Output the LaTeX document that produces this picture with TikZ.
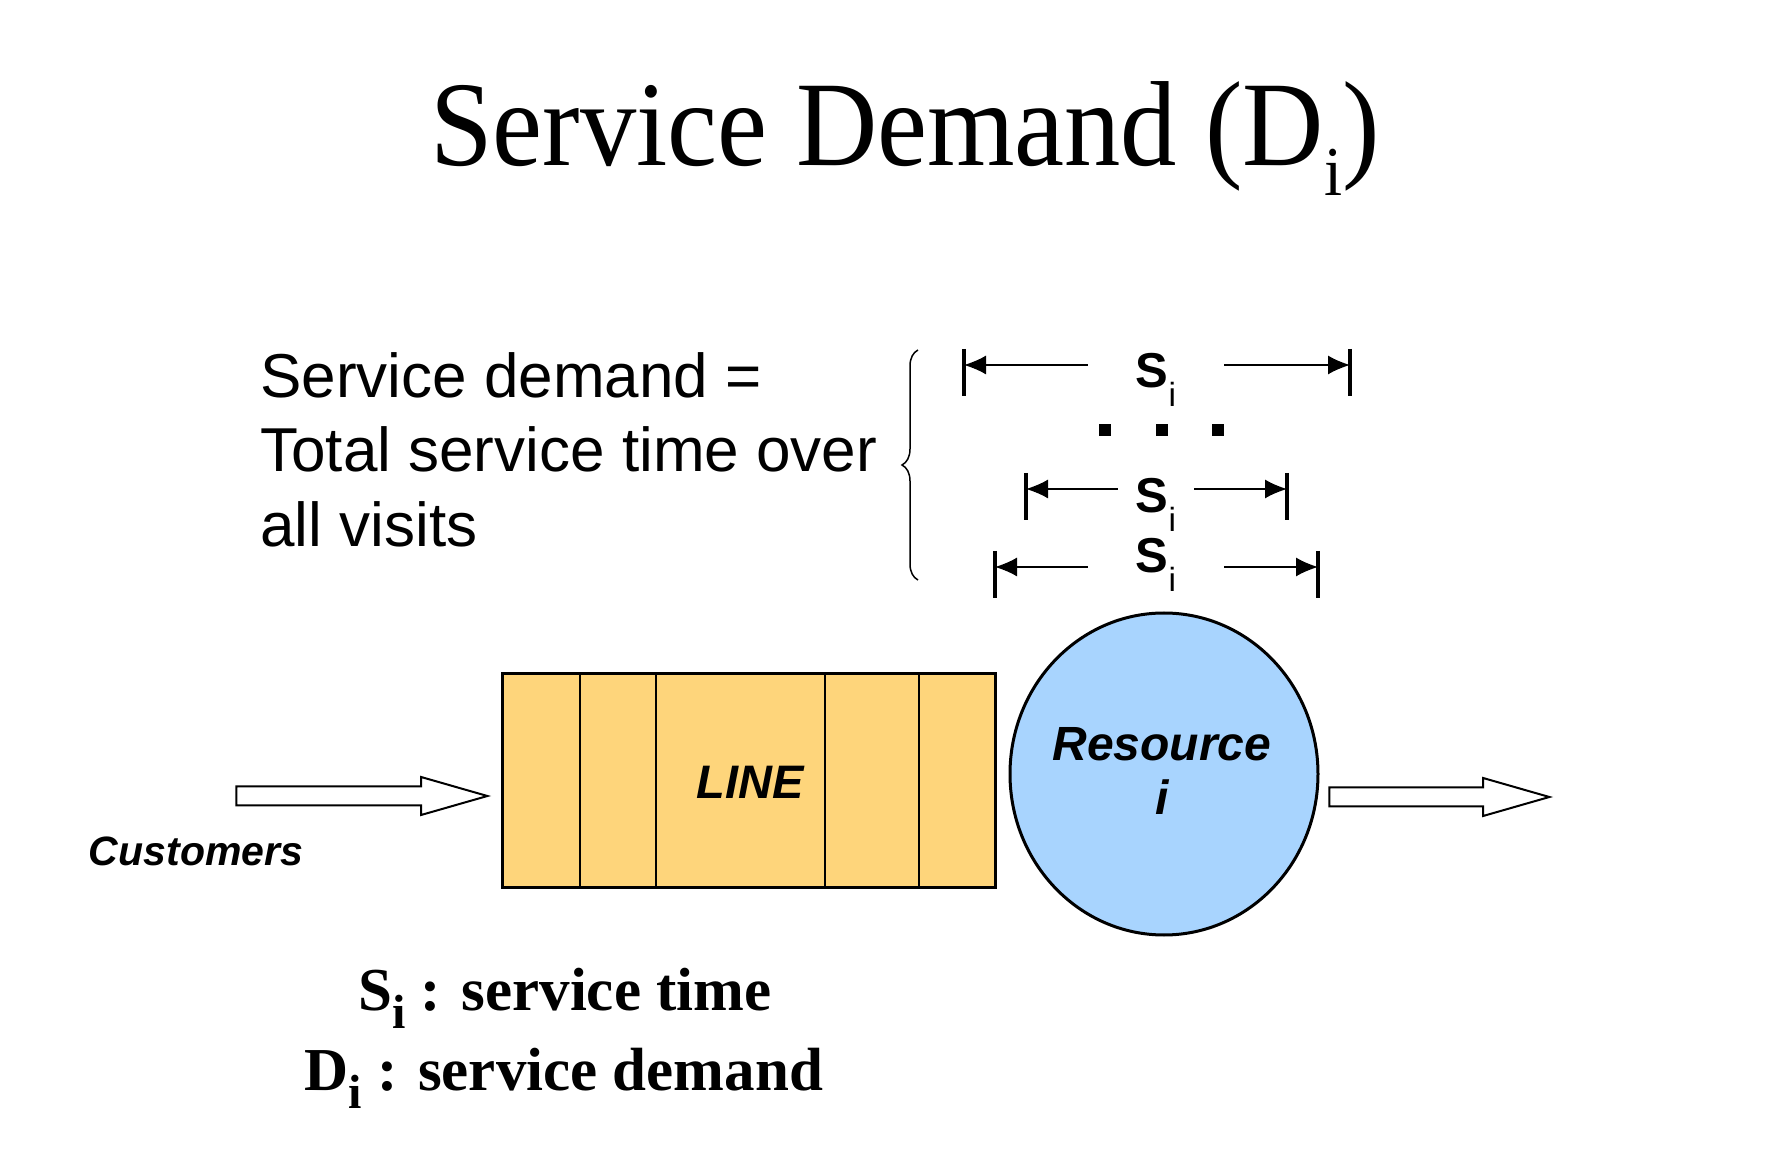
\documentclass[tikz,border=0pt]{standalone}
\usepackage{fontspec}
\setmainfont{Liberation Serif}
\setsansfont{Liberation Sans}
\usetikzlibrary{arrows.meta}
\usetikzlibrary{shapes.geometric}
\usetikzlibrary{shapes.arrows}
\usetikzlibrary{decorations.pathreplacing}
\definecolor{linefill}{RGB}{254,213,123}
\definecolor{resfill}{RGB}{168,212,254}
\newcommand{\subi}[2]{\raisebox{-#2}{\fontsize{#1}{#1}\selectfont i}}
\newcommand{\stime}{S\raisebox{-9.25pt}{\fontsize{16.75pt}{17pt}\mdseries\selectfont i}}

\begin{document}
\begin{tikzpicture}[x=0.5pt,y=-0.5pt,
  dimarrow/.style={line width=0.7pt,-{Latex[length=11pt,width=9.5pt]}},
  dimbar/.style={line width=1.6pt},
  silabel/.style={font=\fontsize{24.5pt}{25pt}\selectfont\sffamily\bfseries,anchor=base,inner ysep=0pt},
  blockarrow/.style={single arrow,draw,line width=1pt,fill=white,inner sep=0pt,inner ysep=4.25pt,
    single arrow head extend=4.75pt,single arrow tip angle=32,single arrow head indent=0pt,anchor=tip},
  boldit/.style 2 args={font=\fontsize{#1}{#2}\selectfont\sffamily\bfseries\itshape}]
 \useasboundingbox[fill=white] (0,0) rectangle (1790,1170);

 \node[anchor=base,font=\fontsize{60.5pt}{66pt}\selectfont] (title) at (905,166)
   {\scalebox{.93}[1]{Service Demand (D\subi{35pt}{15pt})}};

 \node[anchor=north west,align=left,inner sep=0pt,font=\fontsize{31pt}{37.25pt}\selectfont\sffamily] (defn) at (260,352)
   {Service demand =\\Total service time over\\all visits};

 % visits
 \draw[line width=0.75pt,decorate,decoration={brace,amplitude=8pt}] (918,580) -- (918,350);
 \node[silabel,inner xsep=24pt] (s1) at (1156,388) {\stime};
 \node[silabel,inner xsep=9pt] (s2) at (1156,513) {\stime};
 \node[silabel,inner xsep=24pt] (s3) at (1156,573) {\stime};
 \coordinate (l1) at (964,365);  \coordinate (r1) at (1350,365);
 \coordinate (l2) at (1026,489); \coordinate (r2) at (1287,489);
 \coordinate (l3) at (995,567);  \coordinate (r3) at (1318,567);
 \foreach \n in {1,2,3} {
   \draw[dimarrow] (s\n.west |- l\n) -- (l\n);
   \draw[dimarrow] (s\n.east |- r\n) -- (r\n);
   \draw[dimbar] (l\n) ++(0,-16) -- ++(0,47);
   \draw[dimbar] (r\n) ++(0,-16) -- ++(0,47);
 }
 \foreach \x in {1105,1162,1218} \fill (\x,430) +(-6,-6) rectangle +(6,6);

 % queue and server
 \node[draw,line width=1.5pt,fill=linefill,minimum width=246.5pt,minimum height=107pt,inner sep=0pt] (line) at (748.5,781) {};
 \foreach \x in {580,656,825,919} \draw[line width=0.8pt] (\x,674) -- (\x,888);
 \node[boldit={23.5pt}{24pt},anchor=base] (linelabel) at (750,799) {LINE};
 \node[ellipse,draw,line width=1.5pt,fill=resfill,minimum width=154pt,minimum height=161pt,inner sep=0pt] (res) at (1164,774) {};
 \node[boldit={24pt}{27pt},align=center,anchor=north,inner sep=0pt] (reslabel) at (1162,727) {Resource\\i};

 \node[blockarrow,minimum height=125.5pt] (inflow) at (491,796) {};
 \node[blockarrow,minimum height=110pt] (outflow) at (1553,797) {};
 \node[boldit={20.5pt}{22pt},anchor=base] (cust) at (196,866) {Customers};

 \node[anchor=base,font=\fontsize{30.5pt}{34pt}\selectfont\bfseries] (legS) at (565,1010) {S\subi{24pt}{9pt} : service time};
 \node[anchor=base,font=\fontsize{30.5pt}{34pt}\selectfont\bfseries] (legD) at (564,1090) {D\subi{24pt}{9pt} : service demand};
\end{tikzpicture}
\end{document}
